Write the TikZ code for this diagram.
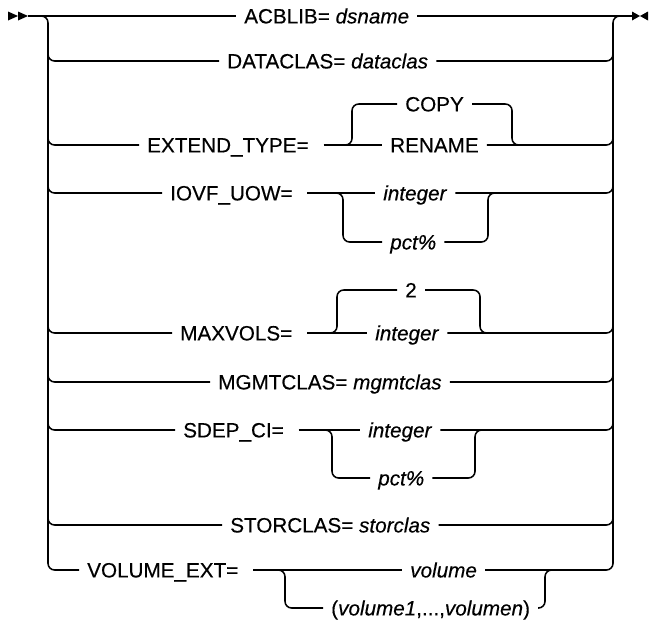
\documentclass[tikz,border=0pt]{standalone}
\usepackage{fontspec}
\newfontfamily\rrfont{Liberation Sans}[FakeBold=0.35]
\usepackage{tikz}
\tikzset{
  rail/.style={line width=1.15pt, draw=black, rounded corners=5pt},
  lbl/.style={anchor=west, inner xsep=6pt, inner ysep=0pt, text height=11.1pt, text depth=0pt, font=\rrfont\fontsize{15.5}{18}\selectfont},
  tip/.style={fill=black},
}

\begin{document}
\begin{tikzpicture}[x=0.75pt,y=-0.75pt]
\useasboundingbox (0,0) rectangle (649,626);
\coordinate (start) at (28,16);
\coordinate (stop) at (632,16);
\coordinate (L) at (48,16);
\coordinate (R) at (613,16);
% labels
\node[lbl] (acb) at (236,16) {ACBLIB= \textit{dsname}};
\node[lbl] (dcl) at (219,61) {DATACLAS= \textit{dataclas}};
\node[lbl] (ext) at (139,145) {EXTEND\_TYPE=};
\node[lbl] (copy) at (397,104) {COPY};
\node[lbl] (ren) at (382,145) {RENAME};
\node[lbl] (iovf) at (162,193) {IOVF\_UOW=};
\node[lbl] (int1) at (375,193) {\textit{integer}};
\node[lbl] (pct1) at (382,242) {\textit{pct\%}};
\node[lbl] (mxv) at (172,333) {MAXVOLS=};
\node[lbl] (two) at (397,290) {2};
\node[lbl] (int2) at (367,333) {\textit{integer}};
\node[lbl] (mgt) at (210,382) {MGMTCLAS= \textit{mgmtclas}};
\node[lbl] (sdep) at (175,430) {SDEP\_CI=};
\node[lbl] (int3) at (360,430) {\textit{integer}};
\node[lbl] (pct3) at (370,478) {\textit{pct\%}};
\node[lbl] (stc) at (222,525) {STORCLAS= \textit{storclas}};
\node[lbl] (vext) at (79,570) {VOLUME\_EXT=};
\node[lbl] (vol) at (402,570) {\textit{volume}};
\node[lbl] (vols) at (323,608) {(\textit{volume1},...,\textit{volumen})};
% branch corners
\coordinate (extL) at (344,145);
\coordinate (ext1) at (352,104);
\coordinate (ext2) at (512,104);
\coordinate (extR) at (520,145);
\coordinate (iovL) at (335,193);
\coordinate (iov1) at (343,242);
\coordinate (iov2) at (488,242);
\coordinate (iovR) at (496,193);
\coordinate (mxvL) at (329,333);
\coordinate (mxv1) at (337,290);
\coordinate (mxv2) at (480,290);
\coordinate (mxvR) at (488,333);
\coordinate (sdpL) at (324,430);
\coordinate (sdp1) at (332,478);
\coordinate (sdp2) at (475,478);
\coordinate (sdpR) at (483,430);
\coordinate (vexL) at (277,570);
\coordinate (vex1) at (285,608);
\coordinate (vex2) at (545,608);
\coordinate (vexR) at (553,570);
% end marks
\fill[tip] (8,11.5) -- (18,16) -- (8,20.5) -- cycle;
\fill[tip] (18,11.5) -- (28,16) -- (18,20.5) -- cycle;
\fill[tip] (632,11.5) -- (640,16) -- (632,20.5) -- cycle;
\fill[tip] (648,11.5) -- (640,16) -- (648,20.5) -- cycle;
% main line and trunks
\draw[rail] (start) -- (acb.west);
\draw[rail] (acb.east) -- (stop);
\draw[rail] (start) -| (vext.west -| L) -- (vext.west);
\draw[rail] (vol.east) -| (R) -- (stop);
% DATACLAS
\draw[rail] ([yshift=8pt]dcl.west -| L) |- (dcl.west);
\draw[rail] (dcl.east) -| ([yshift=8pt]dcl.east -| R);
% EXTEND_TYPE
\draw[rail] ([yshift=8pt]ext.west -| L) |- (ext.west);
\draw[rail] ([xshift=5pt]ext.east) -- (ren.west);
\draw[rail] (extL) -| (ext1) -- (copy.west);
\draw[rail] (copy.east) -- (ext2) |- (extR);
\draw[rail] (ren.east) -| ([yshift=8pt]ren.east -| R);
% IOVF_UOW
\draw[rail] ([yshift=8pt]iovf.west -| L) |- (iovf.west);
\draw[rail] ([xshift=5pt]iovf.east) -- (int1.west);
\draw[rail] (iovL) -| (iov1) -- (pct1.west);
\draw[rail] (pct1.east) -- (iov2) |- (iovR);
\draw[rail] (int1.east) -| ([yshift=8pt]int1.east -| R);
% MAXVOLS
\draw[rail] ([yshift=8pt]mxv.west -| L) |- (mxv.west);
\draw[rail] ([xshift=5pt]mxv.east) -- (int2.west);
\draw[rail] (mxvL) -| (mxv1) -- (two.west);
\draw[rail] (two.east) -- (mxv2) |- (mxvR);
\draw[rail] (int2.east) -| ([yshift=8pt]int2.east -| R);
% MGMTCLAS
\draw[rail] ([yshift=8pt]mgt.west -| L) |- (mgt.west);
\draw[rail] (mgt.east) -| ([yshift=8pt]mgt.east -| R);
% SDEP_CI
\draw[rail] ([yshift=8pt]sdep.west -| L) |- (sdep.west);
\draw[rail] ([xshift=5pt]sdep.east) -- (int3.west);
\draw[rail] (sdpL) -| (sdp1) -- (pct3.west);
\draw[rail] (pct3.east) -- (sdp2) |- (sdpR);
\draw[rail] (int3.east) -| ([yshift=8pt]int3.east -| R);
% STORCLAS
\draw[rail] ([yshift=8pt]stc.west -| L) |- (stc.west);
\draw[rail] (stc.east) -| ([yshift=8pt]stc.east -| R);
% VOLUME_EXT
\draw[rail] ([xshift=5pt]vext.east) -- (vol.west);
\draw[rail] (vexL) -| (vex1) -- (vols.west);
\draw[rail] (vols.east) -- (vex2) |- (vexR);
\end{tikzpicture}
\end{document}
